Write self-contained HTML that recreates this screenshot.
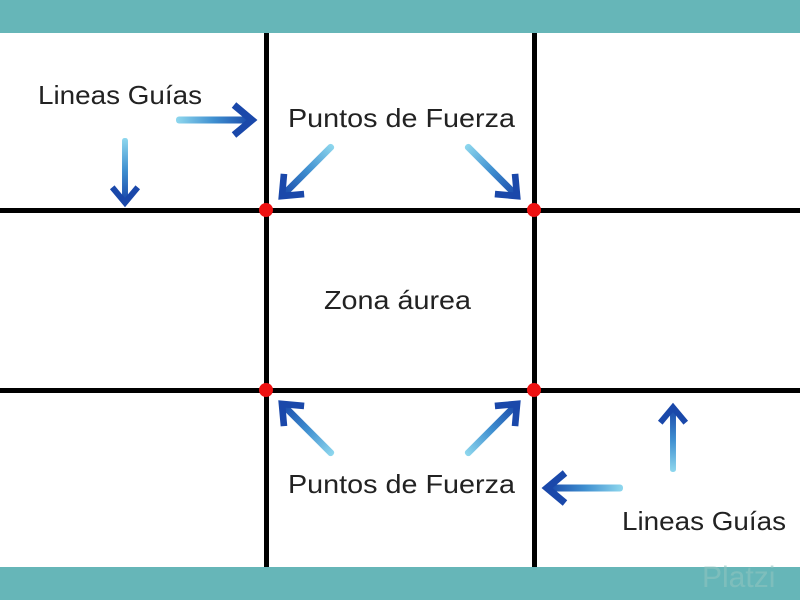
<!DOCTYPE html>
<html><head><style>html,body{margin:0;padding:0;background:#fff}svg{display:block}</style></head>
<body>
<svg width="800" height="600" viewBox="0 0 800 600" xmlns="http://www.w3.org/2000/svg">
<defs>
<linearGradient id="g" gradientUnits="userSpaceOnUse" x1="0" y1="0" x2="76" y2="0">
<stop offset="0" stop-color="#8fd8ee"/><stop offset="0.5" stop-color="#3f8fd0"/><stop offset="1" stop-color="#1846a8"/>
</linearGradient>
<g id="arr">
<rect x="0" y="-3.5" width="72" height="7" rx="3" fill="url(#g)"/>
<polyline points="58,-15 76,0 58,15" fill="none" stroke="#1a48aa" stroke-width="7" stroke-linejoin="miter"/>
</g>
</defs>
<rect x="0" y="0" width="800" height="33" fill="#66b6b8"/>
<rect x="0" y="567" width="800" height="33" fill="#66b6b8"/>
<g fill="#000">
<rect x="264" y="33" width="5" height="534"/>
<rect x="532" y="33" width="5" height="534"/>
<rect x="0" y="208" width="800" height="5"/>
<rect x="0" y="388" width="800" height="5"/>
</g>
<g fill="#ee1111">
<circle cx="266" cy="210" r="7"/><circle cx="534" cy="210" r="7"/>
<circle cx="266" cy="390" r="7"/><circle cx="534" cy="390" r="7"/>
</g>
<use href="#arr" transform="translate(176,120) scale(1.0)"/>
<use href="#arr" transform="translate(125,138) rotate(90) scale(0.85)"/>
<use href="#arr" transform="translate(333,145) rotate(135) scale(0.95)"/>
<use href="#arr" transform="translate(466,145) rotate(45) scale(0.95)"/>
<use href="#arr" transform="translate(333,455) rotate(-135) scale(0.95)"/>
<use href="#arr" transform="translate(466,455) rotate(-45) scale(0.95)"/>
<use href="#arr" transform="translate(623,488) rotate(180) scale(1.0)"/>
<use href="#arr" transform="translate(673,472) rotate(-90) scale(0.85)"/>
<g font-family="Liberation Sans, sans-serif" font-size="26" fill="#222">
<text x="38" y="104" textLength="164" lengthAdjust="spacingAndGlyphs">Lineas Guías</text>
<text x="288" y="127" textLength="227" lengthAdjust="spacingAndGlyphs">Puntos de Fuerza</text>
<text x="324" y="309" textLength="147" lengthAdjust="spacingAndGlyphs">Zona áurea</text>
<text x="288" y="493" textLength="227" lengthAdjust="spacingAndGlyphs">Puntos de Fuerza</text>
<text x="622" y="530" textLength="164" lengthAdjust="spacingAndGlyphs">Lineas Guías</text>
</g>
<text x="702" y="587" font-family="Liberation Sans, sans-serif" font-size="30" fill="#8fc4c0" opacity="0.6">Platzi</text>
</svg>
</body></html>
